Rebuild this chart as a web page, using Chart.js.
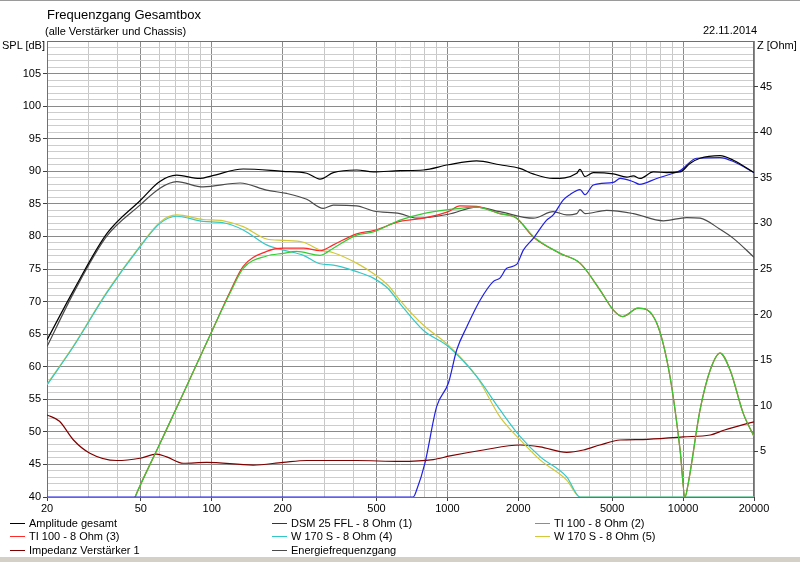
<!DOCTYPE html>
<html>
<head>
<meta charset="utf-8">
<script src="https://cdn.jsdelivr.net/npm/chart.js@4"></script>
<style>
  html, body { margin: 0; padding: 0; background: #fff; }
  #wrap { position: relative; width: 800px; height: 562px; overflow: hidden; font-family: "Liberation Sans", Arial, sans-serif; color: #000; }
  #wrap canvas { position: absolute; left: 0; top: 0; }
  .txt { position: absolute; white-space: nowrap; font-size: 11px; line-height: 13px; }
  .leg { position: absolute; white-space: nowrap; font-size: 11px; line-height: 13px; }
  .leg i { display: inline-block; width: 15px; height: 1px; vertical-align: middle; margin-right: 4px; position: relative; top: -1px; }
  #topline { position: absolute; left: 0; top: 0; width: 800px; height: 1px; background: #9a9a9a; }
  #bottombar { position: absolute; left: 0; top: 557px; width: 800px; height: 5px; background: #d4d0c8; }
</style>
</head>
<body>
<div id="wrap">
  <canvas id="fgChart" width="800" height="562"></canvas>
  <div id="topline"></div>
  <div class="txt" style="left:47px; top:7px; font-size:13px; line-height:16px;">Frequenzgang Gesamtbox</div>
  <div class="txt" style="left:45px; top:25px;">(alle Verstärker und Chassis)</div>
  <div class="txt" style="left:703px; top:24px;">22.11.2014</div>
  <div class="txt" style="left:2px; top:39px;">SPL [dB]</div>
  <div class="txt" style="left:757px; top:39px;">Z [Ohm]</div>
  <div id="legend"></div>
  <div id="bottombar"></div>
</div>
<script>
// x grid and labels (Hz)
const xGrid = [20, 30, 40, 50, 60, 70, 80, 90, 100, 200, 300, 400, 500, 600, 700, 800, 900,
  1000, 2000, 3000, 4000, 5000, 6000, 7000, 8000, 9000, 10000, 20000];
const xLabels = [20, 50, 100, 200, 500, 1000, 2000, 5000, 10000, 20000];

// Amplitude gesamt
const ampFreq = [20, 26, 36, 50, 60, 71, 89, 100, 136, 200, 253, 288, 328, 412, 485, 630, 790, 1010, 1330, 1670,
  2030, 2310, 2810, 3540, 3650, 3840, 4160, 5060, 5770, 6150, 6570, 7480, 8530, 9720, 10700, 11800, 14350, 16350, 20000];
const ampDb = [64.1, 71.8, 80.5, 85.6, 88.4, 89.4, 88.9, 89.3, 90.35, 90.0, 89.7, 88.8, 89.8, 90.2, 89.9, 90.1, 90.2, 91.0, 91.6, 91.0,
  90.45, 89.6, 88.9, 89.7, 90.3, 89.2, 89.8, 89.6, 89.1, 89.3, 88.9, 89.9, 89.8, 89.9, 91.2, 92.0, 92.4, 91.7, 89.8];

// DSM 25 FFL - 8 Ohm (1)
const dsmFreq = [20, 716, 741, 803, 901, 1010, 1096, 1208, 1376, 1568, 1671, 1785, 1968, 2100, 2314, 2637, 2812, 3105,
  3308, 3654, 3838, 4162, 5059, 5410, 6155, 6540, 7730, 9090, 9716, 11430, 14350, 16350, 20000];
const dsmDb = [40, 40, 41.1, 45.2, 53.9, 57.5, 62.6, 66.1, 70.2, 73.1, 73.6, 75.1, 75.7, 77.9, 79.7, 82.5, 83.3, 85.6,
  86.4, 87.2, 86.4, 87.9, 88.3, 88.9, 88.4, 88.0, 88.9, 89.7, 90.1, 92.0, 92.1, 91.5, 89.8];

// TI 100 - 8 Ohm (2)
const ti2Freq = [44, 47.3, 60.3, 75.7, 100.6, 119.6, 136, 171, 201, 229, 288, 328, 412, 485, 629, 790, 1009, 1331, 1671,
  1968, 2314, 3006, 3654, 4437, 5059, 5560, 6440, 7730, 8800, 9716, 10190, 10520, 11810, 13040, 14350, 15830, 18020, 20000];
const ti2Db = [37, 40, 48.2, 55.9, 65.6, 71.3, 75.1, 77.0, 77.4, 77.7, 77.1, 78.2, 80.2, 80.7, 82.5, 83.5, 84.1, 84.5, 83.5,
  82.8, 80.0, 77.4, 75.9, 71.8, 68.7, 67.7, 69.0, 66.7, 58.5, 47.2, 40, 42.1, 53.4, 59.5, 62.1, 59.5, 52.8, 49.3];

// TI 100 - 8 Ohm (3)
const ti3Freq = [44, 47.3, 60.3, 75.7, 100.6, 119.6, 136, 171, 201, 245, 288, 328, 412, 485, 629, 790, 1009, 1130, 1331,
  1671, 1968, 2314, 3006, 3654, 4437, 5059, 5560, 6440, 7730, 8800, 9716, 10190, 10520, 11810, 13040, 14350, 15830, 18020, 20000];
const ti3Db = [37, 40, 48.2, 55.9, 65.6, 71.5, 75.4, 77.7, 78.2, 78.2, 77.8, 78.7, 80.4, 80.9, 82.3, 82.8, 83.8, 84.7, 84.6,
  83.5, 82.8, 79.9, 77.4, 75.9, 71.8, 68.7, 67.7, 69.0, 66.7, 58.5, 47.2, 40, 42.1, 53.4, 59.5, 62.1, 59.5, 52.8, 49.3];

// W 170 S - 8 Ohm (4)
const w4Freq = [20, 25.9, 35.8, 49.6, 60.3, 71, 92, 112, 136, 171, 201, 245, 288, 328, 412, 485, 560, 629, 790, 1009,
  1331, 1671, 2033, 2472, 3208, 3654, 20000];
const w4Db = [57.2, 63.1, 71.3, 78.4, 82.0, 83.1, 82.3, 82.1, 81.0, 78.7, 77.9, 77.1, 75.8, 75.6, 74.6, 73.6, 72.0, 69.7, 65.6, 63.1,
  58.5, 53.4, 49.3, 46.2, 43.1, 40, 40];

// W 170 S - 8 Ohm (5)
const w5Freq = [20, 25.9, 35.8, 49.6, 60.3, 71, 92, 112, 136, 171, 201, 245, 288, 328, 412, 485, 560, 629, 790, 1009,
  1331, 1671, 2033, 2472, 3208, 3654, 20000];
const w5Db = [57.3, 63.2, 71.4, 78.5, 82.2, 83.3, 82.6, 82.4, 81.5, 79.6, 79.4, 79.1, 77.9, 77.5, 75.9, 74.3, 72.5, 70.2, 66.4, 63.3,
  58.5, 52.3, 48.8, 45.7, 42.6, 40, 40];

// Impedanz Verstärker 1 (Ohm, right axis)
const impFreq = [20, 22.6, 25.9, 30.4, 39.5, 49.6, 58.4, 64.4, 75.7, 95, 150, 201, 253, 412, 629, 871, 1026, 1420,
  2033, 2472, 3208, 3775, 4437, 5410, 6760, 10020, 13040, 15000, 20000];
const impOhm = [9.0, 8.3, 6.25, 4.8, 4.0, 4.25, 4.7, 4.4, 3.7, 3.8, 3.5, 3.8, 4.0, 4.0, 3.9, 4.1, 4.5, 5.15,
  5.7, 5.5, 4.9, 5.15, 5.7, 6.25, 6.3, 6.6, 6.8, 7.35, 8.25];

// Energiefrequenzgang
const engFreq = [20, 25.9, 35.8, 49.6, 60.3, 71, 92, 132, 171, 208, 253, 297, 328, 412, 485, 629, 741, 1009, 1331, 1671,
  2314, 2812, 3208, 3538, 3654, 3838, 4740, 6155, 8250, 10350, 11810, 14350, 16350, 20000];
const engDb = [63.1, 71.3, 80.0, 84.8, 87.4, 88.4, 87.6, 88.2, 87.1, 86.6, 85.7, 84.3, 84.8, 84.7, 83.9, 83.5, 82.8, 83.4, 84.5, 83.8,
  82.8, 83.8, 83.3, 83.5, 84.1, 83.5, 84.0, 83.5, 82.4, 82.9, 82.8, 81.1, 79.7, 76.8];

const seriesNames = ['Amplitude gesamt', 'DSM 25 FFL - 8 Ohm (1)', 'TI 100 - 8 Ohm (2)', 'TI 100 - 8 Ohm (3)',
  'W 170 S - 8 Ohm (4)', 'W 170 S - 8 Ohm (5)', 'Impedanz Verstärker 1', 'Energiefrequenzgang'];
const seriesColors = ['#000000', '#1f1fe6', '#33cc33', '#ff2a2a', '#33c8c8', '#d2c83a', '#800000', '#4a4a4a'];

function pts(fs, vs) {
    return fs.map((f, i) => ({ x: f, y: vs[i] }));
}

const seriesData = [
    pts(ampFreq, ampDb), pts(dsmFreq, dsmDb), pts(ti2Freq, ti2Db), pts(ti3Freq, ti3Db),
    pts(w4Freq, w4Db), pts(w5Freq, w5Db), pts(impFreq, impOhm), pts(engFreq, engDb)
];

// Legend in three columns like the original
const legendPos = [[10, 517], [272, 517], [535, 517], [10, 530], [272, 530], [535, 530], [10, 544], [272, 544]];
const legendEl = document.getElementById('legend');
seriesNames.forEach((name, i) => {
    const d = document.createElement('div');
    d.className = 'leg';
    d.style.left = legendPos[i][0] + 'px';
    d.style.top = legendPos[i][1] + 'px';
    d.innerHTML = '<i style="background:' + seriesColors[i] + '"></i>' + name;
    legendEl.appendChild(d);
});

// plot frame, drawn under the curves
const framePlugin = {
    id: 'frame',
    beforeDatasetsDraw(chart) {
        const a = chart.chartArea;
        const ctx = chart.ctx;
        ctx.save();
        ctx.strokeStyle = '#707070';
        ctx.lineWidth = 1;
        ctx.strokeRect(Math.round(a.left) + 0.5, Math.round(a.top) + 0.5,
            Math.round(a.right - a.left) - 1, Math.round(a.bottom - a.top));
        ctx.restore();
    }
};

Chart.defaults.font.family = '"Liberation Sans", Arial, sans-serif';
Chart.defaults.font.size = 11;
Chart.defaults.color = '#000';

new Chart(document.getElementById('fgChart'), {
    type: 'line',
    data: {
        datasets: seriesData.map((d, i) => ({
            label: seriesNames[i],
            data: d,
            borderColor: seriesColors[i],
            borderWidth: 1.2,
            pointRadius: 0,
            fill: false,
            cubicInterpolationMode: 'monotone',
            yAxisID: i === 6 ? 'yz' : 'y'
        }))
    },
    options: {
        responsive: false,
        animation: false,
        layout: { padding: { top: 41, left: 0, right: 0, bottom: 0 } },
        plugins: {
            legend: { display: false },
            tooltip: { enabled: false }
        },
        scales: {
            x: {
                type: 'logarithmic',
                min: 20,
                max: 20000,
                afterBuildTicks: (s) => { s.ticks = xGrid.map(v => ({ value: v })); },
                afterFit: (s) => { s.height = 65; },
                ticks: {
                    autoSkip: false,
                    maxRotation: 0,
                    padding: 1,
                    callback: (v) => xLabels.includes(v) ? String(v) : ''
                },
                grid: {
                    color: (c) => xLabels.includes(c.tick && c.tick.value) ? '#8a8a8a' : '#c8c8c8',
                    tickColor: (c) => xLabels.includes(c.tick && c.tick.value) ? '#404040' : 'rgba(0,0,0,0)',
                    tickLength: 4
                },
                border: { display: false }
            },
            y: {
                type: 'linear',
                position: 'left',
                min: 40,
                max: 110,
                afterFit: (s) => { s.width = 47; },
                ticks: {
                    stepSize: 1,
                    autoSkip: false,
                    padding: 2,
                    callback: (v) => (v % 5 === 0 && v < 110) ? String(v) : ''
                },
                grid: {
                    color: (c) => (c.tick && c.tick.value % 5 === 0) ? '#8a8a8a' : '#cdcdcd',
                    tickColor: (c) => (c.tick && c.tick.value % 5 === 0 && c.tick.value < 110) ? '#404040' : 'rgba(0,0,0,0)',
                    tickLength: 4
                },
                border: { display: false }
            },
            yz: {
                type: 'linear',
                position: 'right',
                min: 0,
                max: 50,
                afterFit: (s) => { s.width = 46; },
                ticks: {
                    stepSize: 5,
                    autoSkip: false,
                    padding: 2,
                    callback: (v) => (v > 0 && v < 50) ? String(v) : ''
                },
                grid: {
                    drawOnChartArea: false,
                    tickColor: (c) => (c.tick && c.tick.value > 0 && c.tick.value < 50) ? '#404040' : 'rgba(0,0,0,0)',
                    tickLength: 4
                },
                border: { display: false }
            }
        }
    },
    plugins: [framePlugin]
});
</script>
</body>
</html>
